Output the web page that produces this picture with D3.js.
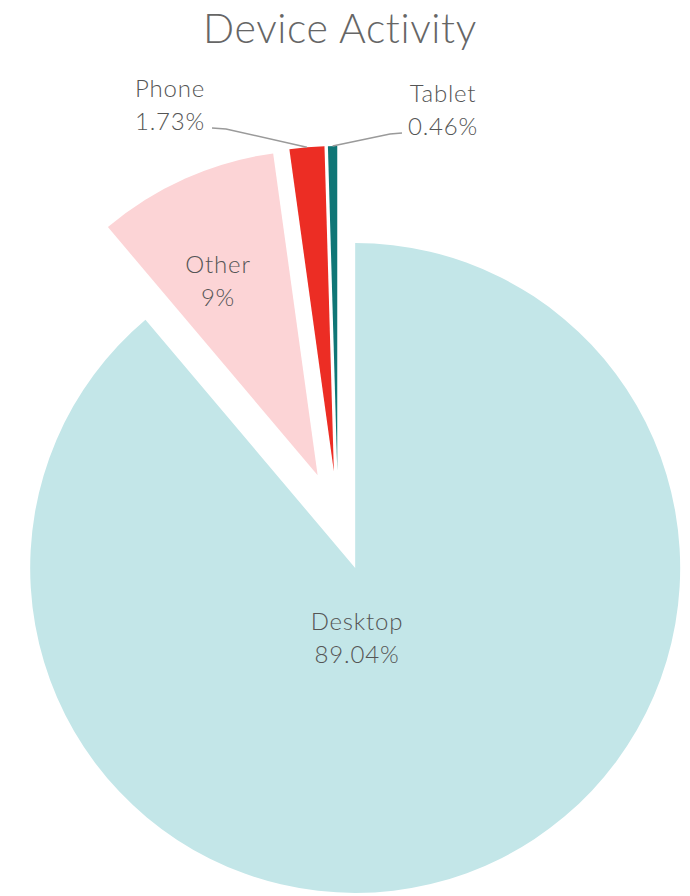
<!DOCTYPE html>
<html>
<head>
<meta charset="utf-8">
<script src="https://cdn.jsdelivr.net/npm/d3@7"></script>
<style>
  html, body { margin: 0; padding: 0; background: #ffffff; }
  svg { display: block; }
  text { font-family: "Lato", "Open Sans", sans-serif; font-weight: 300; }
</style>
</head>
<body>
<svg id="chart" width="690" height="896"></svg>
<script>
// ---- Data ----
const title = "Device Activity";
const categories = ["Desktop", "Other", "Phone", "Tablet"];
const values = [89.04, 9, 1.73, 0.46];
const valueLabels = ["89.04%", "9%", "1.73%", "0.46%"];
const colors = ["#c3e6e8", "#fcd4d6", "#ec2d24", "#0f7676"];

// ---- Layout ----
const W = 690, H = 896;
const cx = 338, cy = 521, R = 325, explode = 50;

const svg = d3.select("#chart");

svg.append("text")
  .attr("x", 340).attr("y", 43)
  .attr("text-anchor", "middle")
  .attr("font-size", 41)
  .attr("letter-spacing", 0.6)
  .attr("fill", "#666666")
  .text(title);

const data = categories.map((c, i) => ({ name: c, value: values[i], label: valueLabels[i], color: colors[i] }));

const pie = d3.pie().sort(null).value(d => d.value).startAngle(0).endAngle(2 * Math.PI);
const arcs = pie(data);
const arc = d3.arc().innerRadius(0).outerRadius(R);

const g = svg.append("g").attr("transform", `translate(${cx},${cy})`);

arcs.forEach(a => {
  const mid = (a.startAngle + a.endAngle) / 2;
  a.mid = mid;
  a.off = d3.pointRadial(mid, explode);
});

g.selectAll("path.slice")
  .data(arcs)
  .join("path")
  .attr("class", "slice")
  .attr("transform", d => `translate(${d.off[0]},${d.off[1]})`)
  .attr("d", arc)
  .attr("fill", d => d.data.color);

// Label placement (pixel offsets from pie centre)
const labelPos = {
  Desktop: { dx: 19, dy: 109, anchor: "middle", outside: false },
  Other:   { dx: -120, dy: -248, anchor: "middle", outside: false },
  Phone:   { dx: -168, dy: -424, anchor: "middle", outside: true, lineX: -126, elbowX: -112 },
  Tablet:  { dx: 105, dy: -419, anchor: "middle", outside: true, lineX: 64, elbowX: 52 }
};

const labelColor = "#555555";
const fs = 24, lh = 33;

arcs.forEach(a => {
  const p = labelPos[a.data.name];
  const t = g.append("text")
    .attr("text-anchor", p.anchor)
    .attr("font-size", fs)
    .attr("letter-spacing", 0.8)
    .attr("fill", labelColor);
  t.append("tspan").attr("x", p.dx).attr("y", p.dy).text(a.data.name);
  t.append("tspan").attr("x", p.dx).attr("y", p.dy + lh).text(a.data.label);

  if (p.outside) {
    const edge = d3.pointRadial(a.mid, R);
    const end = [edge[0] + a.off[0], edge[1] + a.off[1]];
    const ly = p.dy + lh - 2;
    g.append("polyline")
      .attr("points", [[p.lineX, ly], [p.elbowX, ly + 1], end].map(q => q.join(",")).join(" "))
      .attr("fill", "none")
      .attr("stroke", "#9a9a9a")
      .attr("stroke-width", 1.5);
  }
});
</script>
</body>
</html>
